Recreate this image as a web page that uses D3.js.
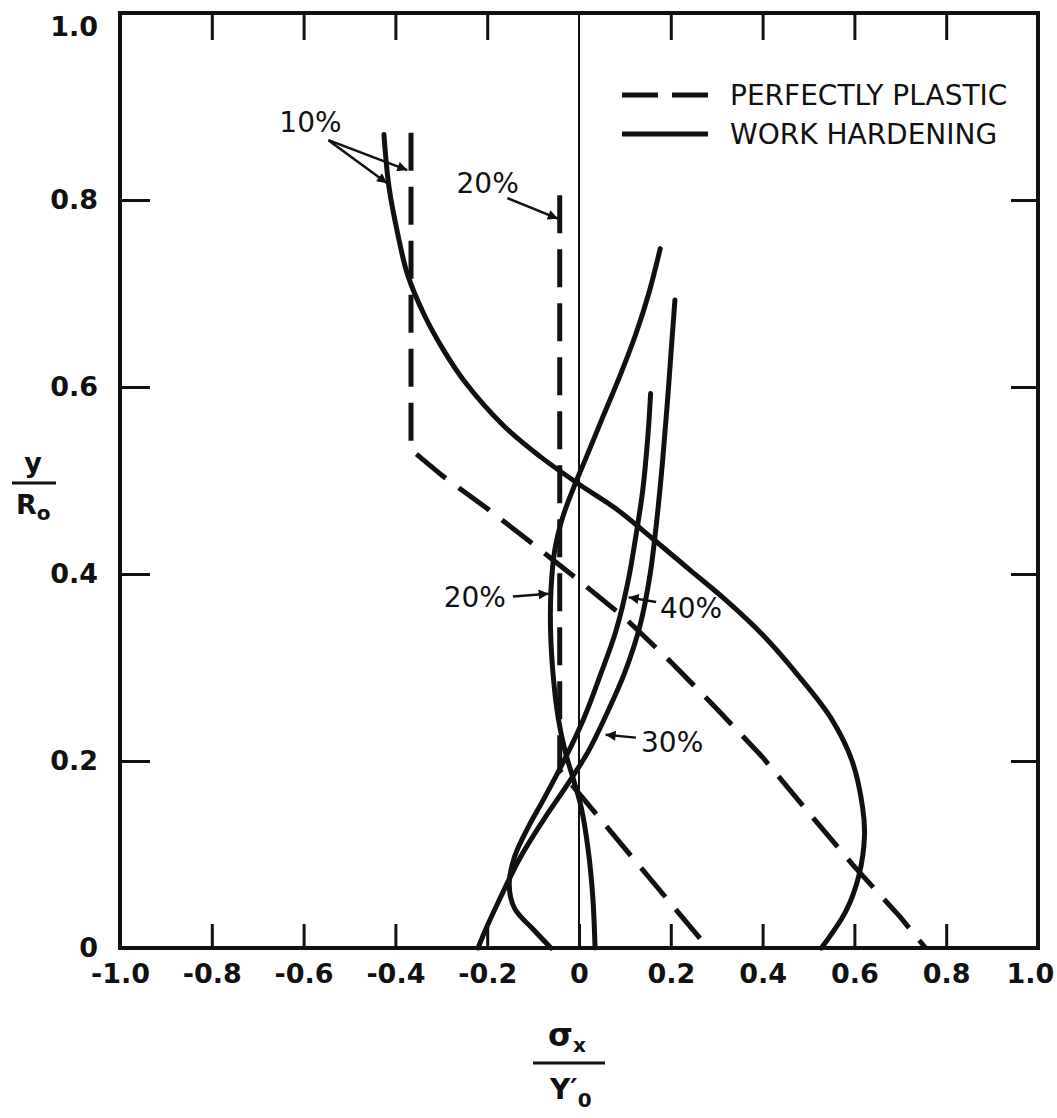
<!DOCTYPE html>
<html><head><meta charset="utf-8">
<script src="https://cdn.jsdelivr.net/npm/d3@7"></script>
<style>body{margin:0;background:#fff}svg{display:block}</style>
</head><body>
<svg id="chart" width="1057" height="1118"></svg>
<script>
// ---------- data ----------
const xTickValues = [-1.0, -0.8, -0.6, -0.4, -0.2, 0, 0.2, 0.4, 0.6, 0.8, 1.0];
const xTickLabels = ["-1.0", "-0.8", "-0.6", "-0.4", "-0.2", "0", "0.2", "0.4", "0.6", "0.8", "1.0"];
const yTickValues = [0, 0.2, 0.4, 0.6, 0.8, 1.0];
const yTickLabels = ["0", "0.2", "0.4", "0.6", "0.8", "1.0"];
const legendLabels = ["PERFECTLY PLASTIC", "WORK HARDENING"];

// perfectly plastic (dashed)  [sigma_x / Y0', y / R0]
const plastic10 = [[-0.366,0.872],[-0.366,0.533],[-0.30,0.506],[-0.20,0.470],[-0.10,0.432],[0.0,0.393],[0.10,0.353],[0.20,0.306],[0.30,0.256],[0.40,0.204],[0.50,0.145],[0.60,0.087],[0.70,0.033],[0.755,0]];
const plastic20 = [[-0.042,0.805],[-0.042,0.190],[0.281,0]];

// work hardening (solid)
const hardening10 = [[-0.425,0.870],[-0.414,0.814],[-0.395,0.764],[-0.374,0.721],[-0.337,0.677],[-0.297,0.641],[-0.251,0.607],[-0.163,0.558],[-0.083,0.525],[0.0,0.496],[0.08,0.470],[0.16,0.438],[0.24,0.405],[0.32,0.372],[0.40,0.335],[0.48,0.290],[0.55,0.245],[0.595,0.200],[0.618,0.150],[0.622,0.120],[0.610,0.078],[0.582,0.040],[0.528,0]];
const hardening20 = [[0.177,0.748],[0.152,0.700],[0.124,0.657],[0.090,0.613],[0.052,0.568],[0.016,0.525],[-0.012,0.492],[-0.036,0.460],[-0.053,0.425],[-0.061,0.383],[-0.062,0.340],[-0.056,0.290],[-0.045,0.245],[-0.030,0.210],[-0.012,0.180],[0.005,0.150],[0.020,0.105],[0.030,0.055],[0.035,0]];
const hardening30 = [[0.209,0.693],[0.201,0.640],[0.192,0.580],[0.182,0.520],[0.170,0.460],[0.155,0.400],[0.133,0.345],[0.100,0.295],[0.060,0.250],[0.020,0.210],[-0.025,0.175],[-0.080,0.135],[-0.130,0.095],[-0.175,0.050],[-0.205,0.018],[-0.220,0]];
const hardening40 = [[0.156,0.593],[0.150,0.547],[0.139,0.490],[0.126,0.447],[0.106,0.390],[0.081,0.340],[0.045,0.290],[0.010,0.245],[-0.030,0.203],[-0.076,0.160],[-0.112,0.128],[-0.140,0.098],[-0.152,0.068],[-0.140,0.042],[-0.100,0.020],[-0.061,0]];

// annotations: label text, label anchor, arrows (from -> to) in data units
const annotationTexts = ["10%", "20%", "20%", "40%", "30%"];
const annotationAnchors = [[-0.585,0.873],[-0.199,0.807],[-0.227,0.365],[0.244,0.353],[0.203,0.210]];
const annotationArrows = [
  [[[-0.546,0.864],[-0.374,0.832]], [[-0.546,0.864],[-0.418,0.818]]],
  [[[-0.156,0.802],[-0.046,0.780]]],
  [[[-0.144,0.376],[-0.066,0.379]]],
  [[[0.168,0.370],[0.108,0.375]]],
  [[[0.124,0.225],[0.058,0.228]]]
];

// ---------- drawing ----------
const svg = d3.select("#chart");
const W = 1057, H = 1118;
const mLeft = 120, mRight = 1038, mTop = 13, mBottom = 948;
const x = d3.scaleLinear().domain([-1, 1]).range([mLeft, mRight]);
const y = d3.scaleLinear().domain([0, 1]).range([mBottom, mTop]);
const ink = "#111";
const font = "'DejaVu Sans', sans-serif";

svg.append("rect").attr("width", W).attr("height", H).attr("fill", "#fff");

// zero line
svg.append("line").attr("x1", x(0)).attr("x2", x(0)).attr("y1", y(1)).attr("y2", y(0))
  .attr("stroke", ink).attr("stroke-width", 2);

// axes
const bottomAxis = d3.axisBottom(x).tickValues(xTickValues).tickFormat((d, i) => xTickLabels[i])
  .tickSizeInner(-24).tickSizeOuter(0).tickPadding(16);
const topAxis = d3.axisTop(x).tickValues(xTickValues.filter(v => v !== 0)).tickFormat("")
  .tickSizeInner(-27).tickSizeOuter(0);
const leftAxis = d3.axisLeft(y).tickValues(yTickValues).tickFormat((d, i) => yTickLabels[i])
  .tickSizeInner(-30).tickSizeOuter(0).tickPadding(22);
const rightAxis = d3.axisRight(y).tickValues(yTickValues).tickFormat("")
  .tickSizeInner(-27).tickSizeOuter(0);

function styleAxis(g) {
  g.select(".domain").remove();
  g.selectAll(".tick line").attr("stroke", ink).attr("stroke-width", 3);
  g.selectAll(".tick text").attr("fill", ink).attr("font-family", font)
    .attr("font-weight", "bold").attr("font-size", 27);
}
const gBottom = svg.append("g").attr("transform", `translate(0,${mBottom})`).call(bottomAxis).call(styleAxis);
svg.append("g").attr("transform", `translate(0,${mTop})`).call(topAxis).call(styleAxis);
const gLeft = svg.append("g").attr("transform", `translate(${mLeft},0)`).call(leftAxis).call(styleAxis);
svg.append("g").attr("transform", `translate(${mRight},0)`).call(rightAxis).call(styleAxis);
// keep the end labels inside the picture
gBottom.selectAll(".tick text").filter(d => d === 1).attr("dx", -8);
gLeft.selectAll(".tick text").filter(d => d === 1).attr("dy", "0.85em");

// frame
svg.append("rect").attr("x", mLeft).attr("y", mTop).attr("width", mRight - mLeft).attr("height", mBottom - mTop)
  .attr("fill", "none").attr("stroke", ink).attr("stroke-width", 4);

// curves
const straight = d3.line().x(d => x(d[0])).y(d => y(d[1]));
const smooth = d3.line().x(d => x(d[0])).y(d => y(d[1])).curve(d3.curveCatmullRom.alpha(0.5));
const curves = svg.append("g").attr("fill", "none").attr("stroke", ink).attr("stroke-width", 5)
  .attr("stroke-linecap", "round").attr("stroke-linejoin", "round");
[plastic10, plastic20].forEach(s => curves.append("path").attr("d", straight(s))
  .attr("stroke-dasharray", "38,16").attr("stroke-linecap", "butt"));
[hardening10, hardening20, hardening30, hardening40].forEach(s => curves.append("path").attr("d", smooth(s)));

// arrowheads
svg.append("defs").append("marker").attr("id", "arr").attr("viewBox", "0 0 10 10")
  .attr("refX", 10).attr("refY", 5).attr("markerWidth", 5).attr("markerHeight", 4)
  .attr("markerUnits", "strokeWidth").attr("orient", "auto")
  .append("path").attr("d", "M0,0 L10,5 L0,10 z").attr("fill", ink);

const ann = svg.append("g");
annotationTexts.forEach((t, i) => {
  ann.append("text").attr("x", x(annotationAnchors[i][0])).attr("y", y(annotationAnchors[i][1]))
    .attr("text-anchor", "middle").attr("font-family", font).attr("font-size", 28)
    .attr("fill", ink).text(t);
  annotationArrows[i].forEach(a => {
    ann.append("line").attr("x1", x(a[0][0])).attr("y1", y(a[0][1]))
      .attr("x2", x(a[1][0])).attr("y2", y(a[1][1]))
      .attr("stroke", ink).attr("stroke-width", 2.5).attr("marker-end", "url(#arr)");
  });
});

// legend
const lg = svg.append("g").attr("transform", "translate(622,0)");
const rowY = [95, 134];
lg.append("line").attr("x1", 0).attr("x2", 36).attr("y1", rowY[0]).attr("y2", rowY[0])
  .attr("stroke", ink).attr("stroke-width", 5);
lg.append("line").attr("x1", 50).attr("x2", 86).attr("y1", rowY[0]).attr("y2", rowY[0])
  .attr("stroke", ink).attr("stroke-width", 5);
lg.append("line").attr("x1", 0).attr("x2", 86).attr("y1", rowY[1]).attr("y2", rowY[1])
  .attr("stroke", ink).attr("stroke-width", 5);
legendLabels.forEach((t, i) => lg.append("text").attr("x", 108).attr("y", rowY[i] + 10)
  .attr("font-family", font).attr("font-size", 28).attr("fill", ink).text(t));

// y-axis title  y / R0
const yt = svg.append("g").attr("font-family", font).attr("font-weight", "bold").attr("fill", ink);
yt.append("text").attr("x", 33).attr("y", 472).attr("text-anchor", "middle").attr("font-size", 27).text("y");
yt.append("line").attr("x1", 12).attr("x2", 56).attr("y1", 483).attr("y2", 483).attr("stroke", ink).attr("stroke-width", 3);
const rt = yt.append("text").attr("x", 16).attr("y", 514).attr("font-size", 27);
rt.append("tspan").text("R");
rt.append("tspan").attr("font-size", 20).attr("dy", 6).text("o");

// x-axis title  sigma_x / Y0'
const xt = svg.append("g").attr("font-family", font).attr("font-weight", "bold").attr("fill", ink);
const st = xt.append("text").attr("x", 548).attr("y", 1046).attr("font-size", 32);
st.append("tspan").text("σ");
st.append("tspan").attr("font-size", 20).attr("dy", 6).text("x");
xt.append("line").attr("x1", 533).attr("x2", 605).attr("y1", 1063).attr("y2", 1063).attr("stroke", ink).attr("stroke-width", 3);
const yy = xt.append("text").attr("x", 550).attr("y", 1099).attr("font-size", 28);
yy.append("tspan").text("Y′");
yy.append("tspan").attr("font-size", 20).attr("dy", 8).text("0");
</script>
</body></html>
